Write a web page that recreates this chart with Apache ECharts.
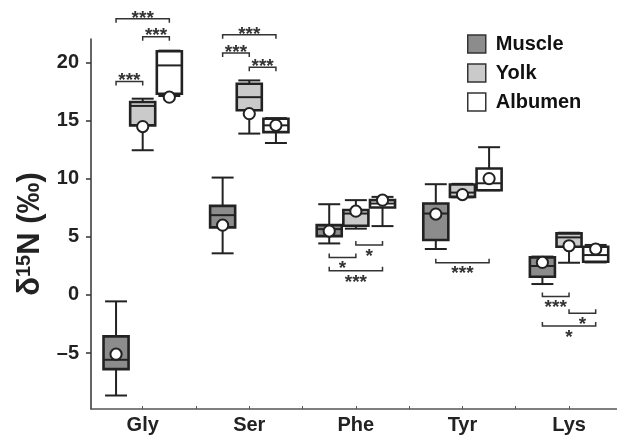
<!DOCTYPE html>
<html><head><meta charset="utf-8">
<script src="https://cdn.jsdelivr.net/npm/echarts@6/dist/echarts.min.js"></script>
<style>html,body{margin:0;padding:0;background:#fff}#c{width:617px;height:441px}</style>
</head><body><div id="c"></div>
<script>
const categories = ['Gly', 'Ser', 'Phe', 'Tyr', 'Lys'];
const groupNames = ['Muscle', 'Yolk', 'Albumen'];
const yTicks = [-5, 0, 5, 10, 15, 20];

// [low whisker, Q1, median, Q3, high whisker] per category
const muscleBox = [
  [-8.64, -6.37, -5.57, -3.56, -0.55],
  [3.58, 5.81, 6.86, 7.66, 10.09],
  [4.43, 5.06, 5.66, 6.0, 7.8],
  [3.95, 4.72, 7.0, 7.86, 9.52],
  [0.94, 1.57, 2.49, 3.23, 3.3]
];
const muscleMean = [-5.09, 6.0, 5.49, 6.95, 2.8];

const yolkBox = [
  [12.44, 14.58, 16.25, 16.58, 16.87],
  [13.87, 15.87, 17.0, 18.15, 18.44],
  [5.7, 5.95, 7.0, 7.3, 8.15],
  [8.4, 8.43, 8.8, 9.49, 9.55],
  [2.77, 4.14, 4.95, 5.29, 5.35]
];
const yolkMean = [14.47, 15.58, 7.2, 8.63, 4.23];

const albumenBox = [
  [17.1, 17.3, 19.73, 20.95, 21.0],
  [13.06, 14.0, 14.58, 15.15, 15.2],
  [5.92, 7.52, 7.86, 8.15, 8.43],
  [9.0, 9.0, 9.6, 10.87, 12.7],
  [2.8, 2.86, 3.43, 4.14, 4.3]
];
const albumenMean = [17.0, 14.58, 8.15, 10.0, 3.95];

// significance brackets: [category index, group A, group B, level (δ15N), label, side]
const brackets = [
  [0, 0, 2, 23.73, '***', 'above'],
  [0, 1, 2, 22.2, '***', 'above'],
  [0, 0, 1, 18.35, '***', 'above'],
  [1, 0, 2, 22.36, '***', 'above'],
  [1, 0, 1, 20.8, '***', 'above'],
  [1, 1, 2, 19.58, '***', 'above'],
  [2, 1, 2, 4.29, '*', 'below'],
  [2, 0, 1, 3.23, '*', 'below'],
  [2, 0, 2, 2.08, '***', 'below'],
  [3, 0, 2, 2.77, '***', 'below'],
  [4, 0, 1, -0.14, '***', 'below'],
  [4, 1, 2, -1.57, '*', 'below'],
  [4, 0, 2, -2.66, '*', 'below']
];

const FONT = '"Liberation Sans", Arial, Helvetica, sans-serif';
const INK = '#222';
const fills = ['#8c8c8c', '#cacaca', '#ffffff'];
const boxes = [muscleBox, yolkBox, albumenBox];
const means = [muscleMean, yolkMean, albumenMean];
const OFF = 0.25;
const gx = (cat, g) => cat + 1 + (g - 1) * OFF;

function boxSeries(g) {
  const data = categories.map((c, i) => [gx(i, g)].concat(boxes[g][i], [means[g][i]]));
  return {
    type: 'custom',
    name: groupNames[g],
    data: data,
    clip: false,
    z: 2 + g,
    itemStyle: { color: fills[g], borderColor: INK, borderWidth: 1.5 },
    encode: { x: 0, y: [1, 2, 3, 4, 5, 6] },
    renderItem: function (params, api) {
      const x = api.value(0);
      const p = (v) => api.coord([x, v]);
      const lo = p(api.value(1)), q1 = p(api.value(2)), md = p(api.value(3)),
            q3 = p(api.value(4)), hi = p(api.value(5)), mn = p(api.value(6));
      const cx = lo[0];
      const hw = api.size([0.235, 0])[0] / 2;
      const cw = api.size([0.103, 0])[0];
      const ls = { stroke: INK, lineWidth: 2 };
      return {
        type: 'group',
        children: [
          { type: 'line', shape: { x1: cx, y1: hi[1], x2: cx, y2: q3[1] }, style: ls },
          { type: 'line', shape: { x1: cx, y1: q1[1], x2: cx, y2: lo[1] }, style: ls },
          { type: 'line', shape: { x1: cx - cw, y1: hi[1], x2: cx + cw, y2: hi[1] }, style: ls },
          { type: 'line', shape: { x1: cx - cw, y1: lo[1], x2: cx + cw, y2: lo[1] }, style: ls },
          { type: 'rect', shape: { x: cx - hw, y: q3[1], width: hw * 2, height: Math.max(q1[1] - q3[1], 1) },
            style: { fill: fills[g], stroke: INK, lineWidth: 2.6 } },
          { type: 'line', shape: { x1: cx - hw, y1: md[1], x2: cx + hw, y2: md[1] }, style: ls },
          { type: 'circle', shape: { cx: cx, cy: mn[1], r: 5.6 },
            style: { fill: '#fff', stroke: INK, lineWidth: 2 } }
        ]
      };
    }
  };
}

const bracketSeries = {
  type: 'custom',
  name: 'sig',
  clip: false,
  z: 10,
  silent: true,
  data: brackets.map(b => [gx(b[0], b[1]), gx(b[0], b[2]), b[3]]),
  encode: { x: [0, 1], y: 2 },
  renderItem: function (params, api) {
    const b = brackets[params.dataIndex];
    const a = api.coord([api.value(0), api.value(2)]);
    const c = api.coord([api.value(1), api.value(2)]);
    const y = a[1];
    const t = b[5] === 'above' ? 4 : -4;
    const ty = b[5] === 'above' ? y - 0.5 : y + 11.5;
    return {
      type: 'group',
      children: [
        { type: 'polyline', shape: { points: [[a[0], y + t], [a[0], y], [c[0], y], [c[0], y + t]] },
          style: { stroke: '#333', lineWidth: 1.5, fill: null } },
        { type: 'text', x: (a[0] + c[0]) / 2, y: ty,
          style: { text: b[4], font: 'bold 19px ' + FONT, fill: '#333', align: 'center', verticalAlign: 'middle' } }
      ]
    };
  }
};

const chart = echarts.init(document.getElementById('c'), null, { renderer: 'canvas' });
chart.setOption({
  animation: false,
  backgroundColor: '#fff',
  grid: { left: 91, right: 0, top: 39, bottom: 32 },
  legend: {
    orient: 'vertical', left: 467, top: 34, padding: 0,
    itemWidth: 18, itemHeight: 18, itemGap: 9, icon: 'rect',
    textStyle: { fontFamily: FONT, fontWeight: 'bold', fontSize: 20, color: '#111', lineHeight: 20, padding: [0, 0, 0, 5] },
    data: groupNames.map((n, i) => ({ name: n, itemStyle: { color: fills[i], borderColor: '#333', borderWidth: 1.5 } }))
  },
  xAxis: {
    type: 'value', min: 0.515, max: 5.45,
    axisLine: { show: true, onZero: false, lineStyle: { color: '#555', width: 1.5 } },
    axisTick: { show: true, inside: true, length: 3, customValues: [1, 1.5, 2, 2.5, 3, 3.5, 4, 4.5, 5], lineStyle: { color: '#555' } },
    axisLabel: { customValues: [1, 2, 3, 4, 5], formatter: v => categories[Math.round(v) - 1],
      fontFamily: FONT, fontWeight: 'bold', fontSize: 20, color: '#222', margin: 6 },
    splitLine: { show: false }
  },
  yAxis: {
    type: 'value', min: -9.8, max: 22,
    name: '{a|δ}{s|15}{a|N (‰)}',
    nameLocation: 'middle', nameRotate: 90, nameGap: 45,
    nameTextStyle: {
      padding: [0, 0, 0, -20],
      rich: {
        a: { fontFamily: FONT, fontWeight: 'bold', fontSize: 31, color: '#222' },
        s: { fontFamily: FONT, fontWeight: 'bold', fontSize: 20, color: '#222', verticalAlign: 'top' }
      }
    },
    axisLine: { show: true, onZero: false, lineStyle: { color: '#333', width: 1.5 } },
    axisTick: { show: true, length: 5, customValues: yTicks, lineStyle: { color: '#333', width: 1.5 } },
    axisLabel: { customValues: yTicks, formatter: v => (v < 0 ? '\u2013' + (-v) : String(v)),
      fontFamily: FONT, fontWeight: 'bold', fontSize: 20, color: '#222', margin: 12 },
    splitLine: { show: false }
  },
  series: [boxSeries(0), boxSeries(1), boxSeries(2), bracketSeries]
});
</script></body></html>
